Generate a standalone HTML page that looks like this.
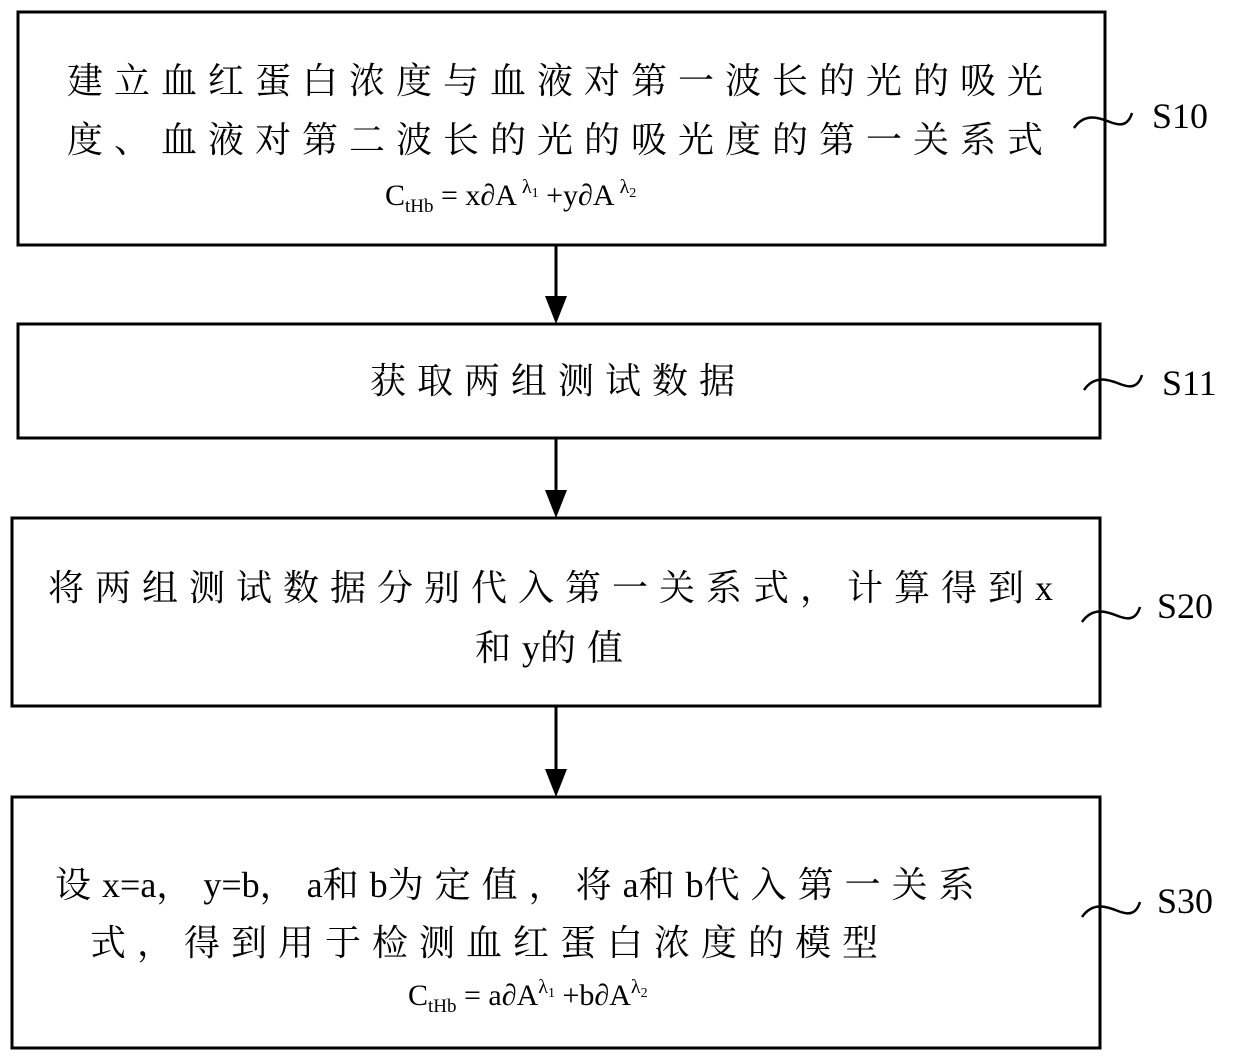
<!DOCTYPE html>
<html><head><meta charset="utf-8"><style>
html,body{margin:0;padding:0;background:#fff;}
svg{display:block;}
text{font-family:"Liberation Serif","Noto Serif CJK SC","Noto Sans CJK SC",serif;fill:#000;}
.c{letter-spacing:11px;}
.l{letter-spacing:0px;}
</style></head><body>
<svg width="1240" height="1061" viewBox="0 0 1240 1061" xmlns="http://www.w3.org/2000/svg">
<g fill="none" stroke="#000" stroke-width="3">
<rect x="18" y="12" width="1087" height="233"/>
<rect x="18" y="324" width="1082" height="114"/>
<rect x="12" y="518" width="1088" height="188"/>
<rect x="12" y="797" width="1088" height="251"/>
<line x1="556" y1="245" x2="556" y2="300"/>
<line x1="556" y1="438" x2="556" y2="494"/>
<line x1="556" y1="706" x2="556" y2="773"/>
<path d="M1074 128 C1085 112 1100 118 1110 122 C1120 126 1128 126 1132 113" stroke-width="2.5"/>
<path d="M1084 390 C1095 374 1110 380 1120 384 C1130 388 1138 388 1142 375" stroke-width="2.5"/>
<path d="M1082 622 C1093 606 1108 612 1118 616 C1128 620 1136 620 1140 607" stroke-width="2.5"/>
<path d="M1082 917 C1093 901 1108 907 1118 911 C1128 915 1136 915 1140 902" stroke-width="2.5"/>
</g>
<g fill="#000">
<polygon points="545,296 567,296 556,324"/>
<polygon points="545,490 567,490 556,518"/>
<polygon points="545,769 567,769 556,797"/>
</g>
<g font-size="36">
<text class="c" x="67" y="93">建立血红蛋白浓度与血液对第一波长的光的吸光</text>
<text class="c" x="67" y="152">度、血液对第二波长的光的吸光度的第一关系式</text>
<text class="c" x="370" y="393">获取两组测试数据</text>
<text class="c" x="48" y="600">将两组测试数据分别代入第一关系式，计算得到<tspan class="l">x</tspan></text>
<text class="c" x="475" y="660">和<tspan class="l">y</tspan>的值</text>
<text class="c" x="55" y="897">设<tspan class="l">x=a</tspan>，<tspan class="l">y=b</tspan>，<tspan class="l">a</tspan>和<tspan class="l">b</tspan>为定值，将<tspan class="l">a</tspan>和<tspan class="l">b</tspan>代入第一关系</text>
<text class="c" x="90" y="955">式，得到用于检测血红蛋白浓度的模型</text>
<text x="1152" y="128">S10</text>
<text x="1162" y="395">S11</text>
<text x="1157" y="618">S20</text>
<text x="1157" y="913">S30</text>
</g>
<text x="385" y="205" font-size="30">C<tspan font-size="19" dy="7">tHb</tspan><tspan dy="-7"> = x∂A</tspan><tspan font-size="20" dy="-12"> λ</tspan><tspan font-size="14" dy="4">1</tspan><tspan dy="8"> +y∂A</tspan><tspan font-size="20" dy="-12"> λ</tspan><tspan font-size="14" dy="4">2</tspan></text>
<text x="408" y="1005" font-size="30">C<tspan font-size="19" dy="7">tHb</tspan><tspan dy="-7"> = a∂A</tspan><tspan font-size="20" dy="-12">λ</tspan><tspan font-size="14" dy="4">1</tspan><tspan dy="8"> +b∂A</tspan><tspan font-size="20" dy="-12">λ</tspan><tspan font-size="14" dy="4">2</tspan></text>
</svg>
</body></html>
